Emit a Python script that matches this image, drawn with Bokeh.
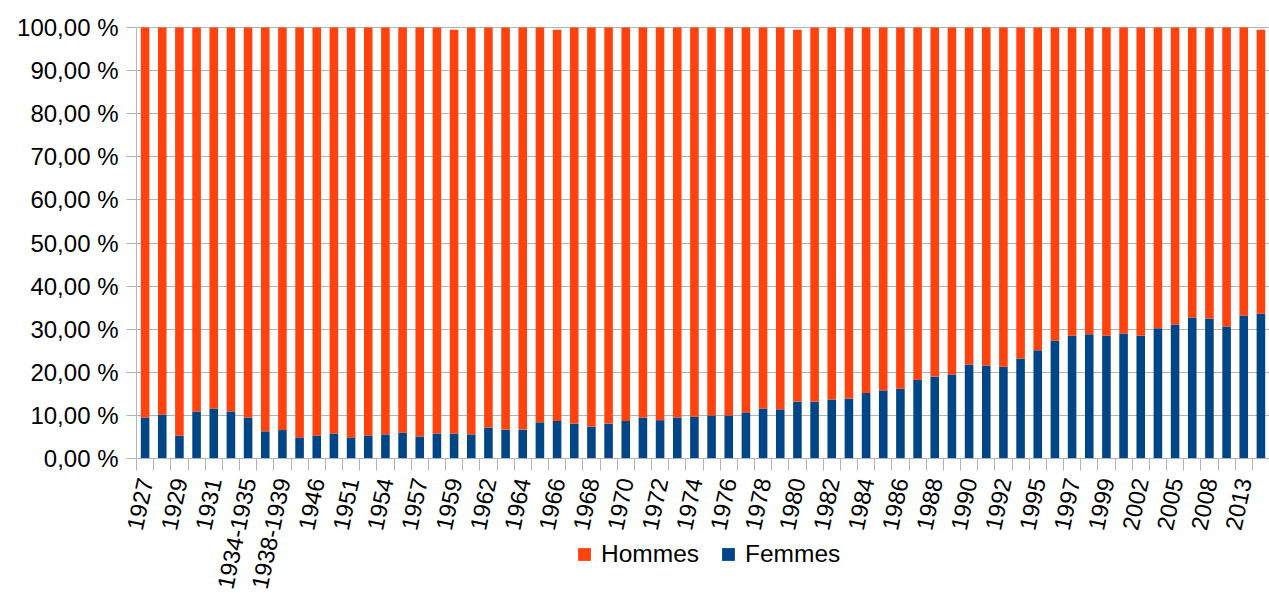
from bokeh.plotting import figure
from bokeh.models import Range1d, FixedTicker, Legend, LegendItem, ColumnDataSource
from bokeh.embed import file_html
from bokeh.resources import INLINE

categories = [
    "1927", "1928", "1929", "1930", "1931", "1932-1933", "1934-1935", "1936-1937",
    "1938-1939", "1945", "1946", "1947-1950", "1951", "1952-1953", "1954", "1955-1956",
    "1957", "1958", "1959", "1960-1961", "1962", "1963", "1964", "1965", "1966", "1967",
    "1968", "1969", "1970", "1971", "1972", "1973", "1974", "1975", "1976", "1977",
    "1978", "1979", "1980", "1981", "1982", "1983", "1984", "1985", "1986", "1987",
    "1988", "1989", "1990", "1991", "1992", "1993-1994", "1995", "1996", "1997", "1998",
    "1999", "2000-2001", "2002", "2003-2004", "2005", "2006-2007", "2008", "2009-2012",
    "2013", "2014",
]

femmes = [
    9.5, 10.2, 5.3, 10.9, 11.6, 10.9, 9.5, 6.3, 6.6, 4.9,
    5.3, 5.8, 4.9, 5.3, 5.6, 6.0, 5.1, 5.8, 5.8, 5.6,
    7.2, 6.7, 6.7, 8.4, 8.7, 8.1, 7.4, 8.1, 8.7, 9.5,
    8.9, 9.5, 9.7, 10.0, 10.0, 10.7, 11.6, 11.4, 13.2, 13.2,
    13.7, 13.9, 15.2, 15.8, 16.2, 18.3, 19.0, 19.5, 21.8, 21.6,
    21.3, 23.2, 25.1, 27.4, 28.5, 28.8, 28.5, 29.0, 28.5, 30.2,
    31.1, 32.7, 32.5, 30.6, 33.2, 33.6,
]

hommes = [
    90.5, 89.8, 94.7, 89.1, 88.4, 89.1, 90.5, 93.7, 93.4, 95.1,
    94.7, 94.2, 95.1, 94.7, 94.4, 94.0, 94.9, 94.2, 93.7, 94.4,
    92.8, 93.3, 93.3, 91.6, 90.8, 91.9, 92.6, 91.9, 91.3, 90.5,
    91.1, 90.5, 90.3, 90.0, 90.0, 89.3, 88.4, 88.6, 86.3, 86.8,
    86.3, 86.1, 84.8, 84.2, 83.8, 81.7, 81.0, 80.5, 78.2, 78.4,
    78.7, 76.8, 74.9, 72.6, 71.5, 71.2, 71.5, 71.0, 71.5, 69.8,
    68.9, 67.3, 67.5, 69.4, 66.8, 65.9,
]

series_names = ["Hommes", "Femmes"]
y_ticks = [0, 10, 20, 30, 40, 50, 60, 70, 80, 90, 100]
y_tick_labels = ["0,00 %", "10,00 %", "20,00 %", "30,00 %", "40,00 %", "50,00 %",
                 "60,00 %", "70,00 %", "80,00 %", "90,00 %", "100,00 %"]

FONT = "Liberation Sans"
GREY = "#b3b3b3"
BLUE = "#004586"
ORANGE = "#ff420e"

# page geometry (pixels): plot area spans x 136..1269, y 27 (100 %) .. 458 (0 %)
W, H = 1269, 594
LEFT, TOP, ZERO_Y = 136, 27, 458
n = len(categories)
cat_px = (W - LEFT) / n
pct_px = (ZERO_Y - TOP) / 100.0
x_start = -0.5 - LEFT / cat_px
y_min = -(H - ZERO_Y) / pct_px
y_max = 100 + TOP / pct_px

idx = list(range(n))
source = ColumnDataSource(dict(x=idx, femmes=femmes, hommes=hommes))

p = figure(width=W, height=H, output_backend="svg", toolbar_location=None,
           x_range=Range1d(x_start, n - 0.5), y_range=Range1d(y_min, y_max),
           min_border_left=0, min_border_right=0, min_border_top=0,
           min_border_bottom=0)
p.outline_line_color = None
p.background_fill_color = "white"
p.border_fill_color = "white"

rs = p.vbar_stack(["femmes", "hommes"], x="x", width=0.5,
                  color=[BLUE, ORANGE], line_color=None, source=source)

legend = Legend(items=[LegendItem(label=series_names[0], renderers=[rs[1]]),
                       LegendItem(label=series_names[1], renderers=[rs[0]])],
                orientation="horizontal", location=(576, 26),
                padding=0, margin=0, spacing=21, label_standoff=9,
                glyph_width=16, glyph_height=16,
                label_text_font=FONT, label_text_font_size="24.5px",
                label_text_color="black",
                border_line_color=None, background_fill_alpha=0)
p.add_layout(legend)

# x axis, drawn on the 0 % line
xa = p.xaxis[0]
xa.fixed_location = 0
xa.bounds = (-0.5, n - 0.5)
xa.ticker = FixedTicker(ticks=idx[::2], minor_ticks=[i - 0.5 for i in range(n + 1)])
xa.major_label_overrides = {i: categories[i] for i in idx[::2]}
xa.major_tick_in = 0
xa.major_tick_out = 0
xa.minor_tick_in = 0
xa.minor_tick_out = 12
xa.minor_tick_line_color = GREY
xa.axis_line_color = GREY
xa.major_label_orientation = 1.36
xa.major_label_standoff = 8
xa.major_label_text_font = FONT
xa.major_label_text_font_size = "23.5px"
xa.major_label_text_color = "black"

# y axis, drawn at the left edge of the first category
ya = p.yaxis[0]
ya.fixed_location = -0.5
ya.bounds = (0, 100)
ya.ticker = FixedTicker(ticks=y_ticks, minor_ticks=[])
ya.major_label_overrides = {t: l for t, l in zip(y_ticks, y_tick_labels)}
ya.major_tick_in = 0
ya.major_tick_out = 10
ya.major_tick_line_color = GREY
ya.minor_tick_line_color = None
ya.axis_line_color = GREY
ya.major_label_standoff = 8
ya.major_label_text_font = FONT
ya.major_label_text_font_size = "24px"
ya.major_label_text_color = "black"

p.xgrid.visible = False
p.ygrid.ticker = FixedTicker(ticks=y_ticks, minor_ticks=[])
p.ygrid.bounds = (0, 100)
p.ygrid.cross_bounds = (-0.5, n - 0.5)
p.ygrid.grid_line_color = GREY

open("out.html", "w").write(file_html(p, INLINE))
